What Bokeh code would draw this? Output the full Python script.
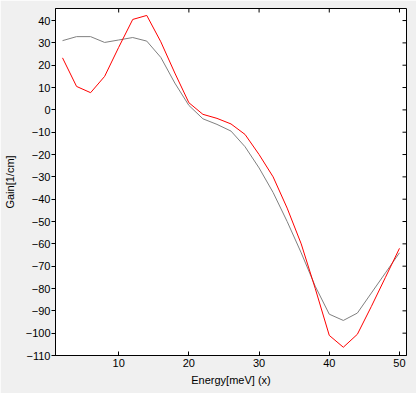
from bokeh.plotting import figure
from bokeh.models import Range1d, FixedTicker
from bokeh.embed import file_html
from bokeh.resources import INLINE

energy = [2, 4, 6, 8, 10, 12, 14, 16, 18, 20, 22, 24, 26, 28, 30, 32, 34, 36, 38, 40, 42, 44, 46, 48, 50]
gain_red = [23.3, 10.5, 7.7, 15.0, 28.0, 40.5, 42.3, 30.5, 16.5, 3.2, -2.0, -3.8, -6.3, -11.0, -20.0,
            -30.0, -44.0, -60.0, -80.0, -101.0, -106.3, -100.5, -88.0, -75.0, -62.0]
gain_gray = [31.0, 32.8, 32.8, 30.2, 31.3, 32.4, 30.8, 23.5, 12.0, 2.0, -4.0, -6.5, -9.5, -16.5, -26.0,
             -37.0, -50.0, -64.0, -79.0, -91.5, -94.3, -91.0, -82.0, -73.0, -64.0]
x_ticks = [10, 20, 30, 40, 50]
y_ticks = list(range(-110, 41, 10))

FONT = "Liberation Sans"

p = figure(width=416, height=393, output_backend="svg", toolbar_location=None,
           x_range=Range1d(1, 51), y_range=Range1d(-110, 45.4),
           min_border_left=48, min_border_right=10, min_border_top=8, min_border_bottom=38,
           background_fill_color="white", border_fill_color="#f0f0f0",
           outline_line_color="black", outline_line_width=1)
p.grid.visible = False

p.line(energy, gain_gray, line_color="#808080", line_width=1)
p.line(energy, gain_red, line_color="#ff0000", line_width=1)

# inner ticks on the top and right edges of the frame
x_top = p.y_range.end
x_right = p.x_range.end
p.ray(x=x_ticks, y=[x_top] * len(x_ticks), length=4, length_units="screen",
      angle=-90, angle_units="deg", line_color="black", line_width=1)
p.ray(x=[x_right] * len(y_ticks), y=y_ticks, length=4, length_units="screen",
      angle=180, angle_units="deg", line_color="black", line_width=1)

xa = p.xaxis[0]
xa.ticker = FixedTicker(ticks=x_ticks)
xa.major_tick_in = 4
xa.major_tick_out = 0
xa.minor_tick_in = 0
xa.minor_tick_out = 0
xa.axis_line_color = "black"
xa.major_tick_line_color = "black"
xa.major_label_standoff = 3
xa.major_label_text_font = FONT
xa.major_label_text_font_size = "11px"
xa.major_label_text_color = "black"
xa.axis_label = "Energy[meV] (x)"
xa.axis_label_text_font = FONT
xa.axis_label_text_font_size = "11px"
xa.axis_label_text_font_style = "normal"
xa.axis_label_text_color = "black"
xa.axis_label_standoff = 4

ya = p.yaxis[0]
ya.ticker = FixedTicker(ticks=y_ticks)
ya.major_tick_in = 0
ya.major_tick_out = 4
ya.minor_tick_in = 0
ya.minor_tick_out = 0
ya.axis_line_color = "black"
ya.major_tick_line_color = "black"
ya.major_label_standoff = 1
ya.major_label_text_font = FONT
ya.major_label_text_font_size = "11px"
ya.major_label_text_color = "black"
ya.axis_label = "Gain[1/cm]"
ya.axis_label_text_font = FONT
ya.axis_label_text_font_size = "11px"
ya.axis_label_text_font_style = "normal"
ya.axis_label_text_color = "black"
ya.axis_label_standoff = 7

open("out.html", "w").write(file_html(p, INLINE))
